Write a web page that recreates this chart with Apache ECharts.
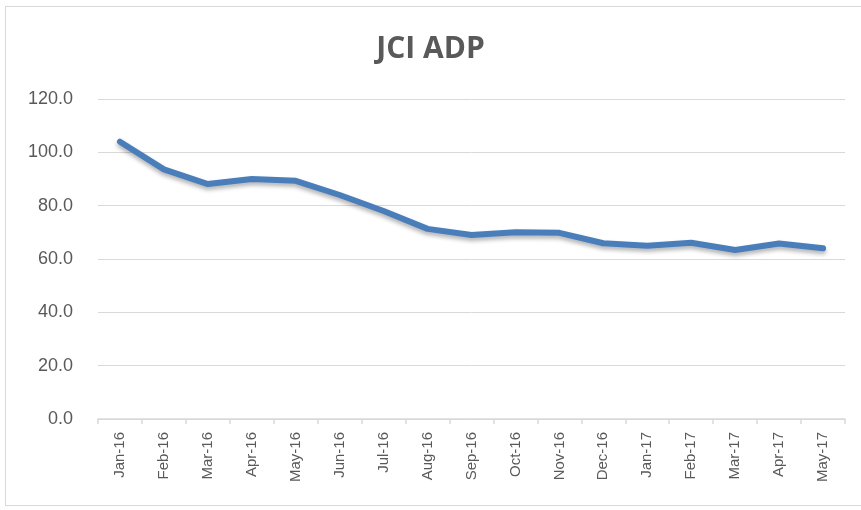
<!DOCTYPE html>
<html>
<head>
<meta charset="utf-8">
<script src="https://cdn.jsdelivr.net/npm/echarts@6/dist/echarts.min.js"></script>
<style>
  html, body { margin: 0; padding: 0; background: #fff; }
  .frame {
    position: absolute; left: 5px; top: 6px; width: 870px; height: 500px;
    border: 1px solid #d9d9d9; box-sizing: border-box;
  }
  #chart { position: absolute; left: 0; top: 0; width: 861px; height: 510px; }
</style>
</head>
<body>
<div class="frame"></div>
<div id="chart"></div>
<script>
const months = ['Jan-16', 'Feb-16', 'Mar-16', 'Apr-16', 'May-16', 'Jun-16', 'Jul-16', 'Aug-16',
  'Sep-16', 'Oct-16', 'Nov-16', 'Dec-16', 'Jan-17', 'Feb-17', 'Mar-17', 'Apr-17', 'May-17']
const adp = [104.0, 93.6, 88.1, 90.0, 89.3, 84.0, 78.0, 71.3, 69.0, 70.0, 69.8,
  65.9, 65.0, 66.1, 63.4, 65.8, 64.0]

const axisGray = '#d9d9d9'
const textGray = '#595959'

const option = {
  animation: false,
  title: {
    text: 'JCI ADP',
    left: 'center',
    top: 29,
    textStyle: {
      fontFamily: 'Open Sans',
      fontWeight: 'bold',
      fontSize: 30,
      color: textGray
    }
  },
  grid: { left: 98, right: 16, top: 99, bottom: 91, containLabel: false },
  xAxis: {
    type: 'category',
    data: months,
    axisLine: { lineStyle: { color: axisGray, width: 1.5 } },
    axisTick: { show: true, length: 5, lineStyle: { color: axisGray, width: 1.5 } },
    axisLabel: {
      rotate: 90,
      margin: 13,
      fontSize: 15,
      fontFamily: 'Liberation Sans',
      color: textGray,
      interval: 0
    }
  },
  yAxis: {
    type: 'value',
    min: 0,
    max: 120,
    interval: 20,
    axisLine: { show: false },
    axisTick: { show: false },
    splitLine: { lineStyle: { color: axisGray, width: 1 } },
    axisLabel: {
      margin: 25,
      fontSize: 18,
      fontFamily: 'Liberation Sans',
      color: textGray,
      formatter: (v) => v.toFixed(1)
    }
  },
  series: [
    {
      type: 'line',
      data: adp,
      symbol: 'none',
      lineStyle: {
        width: 6,
        color: '#4a7ebb',
        cap: 'round',
        join: 'round',
        shadowColor: 'rgba(0,0,0,0.3)',
        shadowBlur: 4,
        shadowOffsetY: 3
      }
    }
  ]
}

const myChart = echarts.init(document.getElementById('chart'))
myChart.setOption(option)
</script>
</body>
</html>
